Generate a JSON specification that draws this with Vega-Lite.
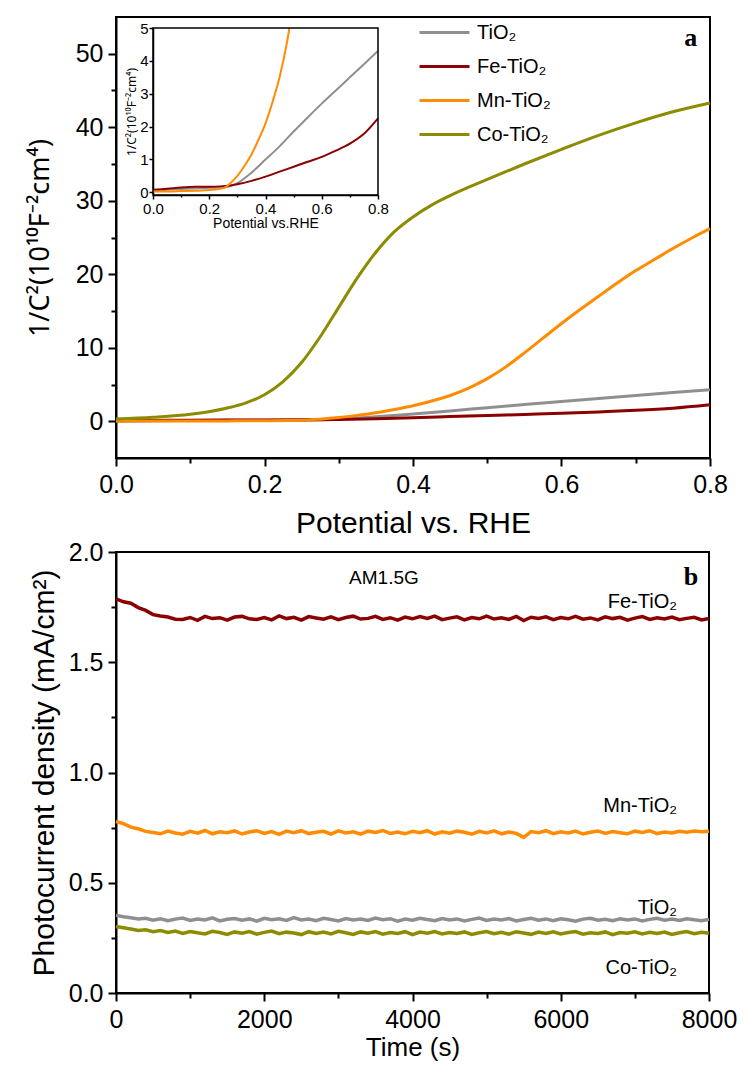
{
"$schema": "https://vega.github.io/schema/vega-lite/v6.json",
"padding": {"left": 25, "top": 11, "right": 5, "bottom": 0},
"spacing": 0,
"config": {
  "font": "Liberation Sans",
  "view": {"stroke": "black", "strokeWidth": 2},
  "axis": {"grid": false, "domainColor": "black", "domainWidth": 2, "tickColor": "black", "tickWidth": 2, "labelColor": "black", "titleColor": "black", "labelFont": "Liberation Sans", "titleFont": "Liberation Sans", "titleFontWeight": "normal", "labelFontSize": 25, "titleFontSize": 28, "labelPadding": 5, "labelOverlap": false, "labelFlush": false}
},
"datasets": {
  "cv": [
    {"p":0,"c":0.05,"s":"TiO₂"},{"p":0.05,"c":0.08,"s":"TiO₂"},{"p":0.1,"c":0.1,"s":"TiO₂"},{"p":0.15,"c":0.12,"s":"TiO₂"},{"p":0.2,"c":0.14,"s":"TiO₂"},{"p":0.25,"c":0.15,"s":"TiO₂"},{"p":0.3,"c":0.28,"s":"TiO₂"},{"p":0.35,"c":0.6,"s":"TiO₂"},{"p":0.4,"c":1.0,"s":"TiO₂"},{"p":0.45,"c":1.4,"s":"TiO₂"},{"p":0.5,"c":1.85,"s":"TiO₂"},{"p":0.55,"c":2.28,"s":"TiO₂"},{"p":0.6,"c":2.7,"s":"TiO₂"},{"p":0.65,"c":3.1,"s":"TiO₂"},{"p":0.7,"c":3.5,"s":"TiO₂"},{"p":0.75,"c":3.9,"s":"TiO₂"},{"p":0.8,"c":4.3,"s":"TiO₂"},
    {"p":0,"c":0.08,"s":"Fe-TiO₂"},{"p":0.05,"c":0.11,"s":"Fe-TiO₂"},{"p":0.1,"c":0.15,"s":"Fe-TiO₂"},{"p":0.15,"c":0.17,"s":"Fe-TiO₂"},{"p":0.2,"c":0.17,"s":"Fe-TiO₂"},{"p":0.25,"c":0.19,"s":"Fe-TiO₂"},{"p":0.3,"c":0.25,"s":"Fe-TiO₂"},{"p":0.35,"c":0.35,"s":"Fe-TiO₂"},{"p":0.4,"c":0.48,"s":"Fe-TiO₂"},{"p":0.45,"c":0.63,"s":"Fe-TiO₂"},{"p":0.5,"c":0.78,"s":"Fe-TiO₂"},{"p":0.55,"c":0.93,"s":"Fe-TiO₂"},{"p":0.6,"c":1.08,"s":"Fe-TiO₂"},{"p":0.65,"c":1.27,"s":"Fe-TiO₂"},{"p":0.7,"c":1.48,"s":"Fe-TiO₂"},{"p":0.75,"c":1.78,"s":"Fe-TiO₂"},{"p":0.8,"c":2.25,"s":"Fe-TiO₂"},
    {"p":0,"c":0.03,"s":"Mn-TiO₂"},{"p":0.05,"c":0.03,"s":"Mn-TiO₂"},{"p":0.1,"c":0.04,"s":"Mn-TiO₂"},{"p":0.15,"c":0.05,"s":"Mn-TiO₂"},{"p":0.2,"c":0.07,"s":"Mn-TiO₂"},{"p":0.25,"c":0.13,"s":"Mn-TiO₂"},{"p":0.275,"c":0.28,"s":"Mn-TiO₂"},{"p":0.3,"c":0.5,"s":"Mn-TiO₂"},{"p":0.325,"c":0.8,"s":"Mn-TiO₂"},{"p":0.35,"c":1.15,"s":"Mn-TiO₂"},{"p":0.375,"c":1.6,"s":"Mn-TiO₂"},{"p":0.4,"c":2.1,"s":"Mn-TiO₂"},{"p":0.425,"c":2.75,"s":"Mn-TiO₂"},{"p":0.45,"c":3.5,"s":"Mn-TiO₂"},{"p":0.475,"c":4.5,"s":"Mn-TiO₂"},{"p":0.485,"c":5.0,"s":"Mn-TiO₂"},{"p":0.5,"c":5.8,"s":"Mn-TiO₂"},{"p":0.525,"c":7.4,"s":"Mn-TiO₂"},{"p":0.55,"c":9.3,"s":"Mn-TiO₂"},{"p":0.575,"c":11.3,"s":"Mn-TiO₂"},{"p":0.6,"c":13.3,"s":"Mn-TiO₂"},{"p":0.625,"c":15.2,"s":"Mn-TiO₂"},{"p":0.65,"c":17.0,"s":"Mn-TiO₂"},{"p":0.675,"c":18.8,"s":"Mn-TiO₂"},{"p":0.7,"c":20.5,"s":"Mn-TiO₂"},{"p":0.725,"c":22.0,"s":"Mn-TiO₂"},{"p":0.75,"c":23.5,"s":"Mn-TiO₂"},{"p":0.775,"c":24.9,"s":"Mn-TiO₂"},{"p":0.8,"c":26.2,"s":"Mn-TiO₂"},
    {"p":0,"c":0.3,"s":"Co-TiO₂"},{"p":0.05,"c":0.55,"s":"Co-TiO₂"},{"p":0.1,"c":0.95,"s":"Co-TiO₂"},{"p":0.125,"c":1.3,"s":"Co-TiO₂"},{"p":0.15,"c":1.8,"s":"Co-TiO₂"},{"p":0.175,"c":2.5,"s":"Co-TiO₂"},{"p":0.2,"c":3.6,"s":"Co-TiO₂"},{"p":0.225,"c":5.4,"s":"Co-TiO₂"},{"p":0.25,"c":8.0,"s":"Co-TiO₂"},{"p":0.275,"c":11.5,"s":"Co-TiO₂"},{"p":0.3,"c":15.5,"s":"Co-TiO₂"},{"p":0.325,"c":19.5,"s":"Co-TiO₂"},{"p":0.35,"c":23.0,"s":"Co-TiO₂"},{"p":0.375,"c":25.8,"s":"Co-TiO₂"},{"p":0.4,"c":27.8,"s":"Co-TiO₂"},{"p":0.425,"c":29.4,"s":"Co-TiO₂"},{"p":0.45,"c":30.7,"s":"Co-TiO₂"},{"p":0.5,"c":32.9,"s":"Co-TiO₂"},{"p":0.55,"c":35.0,"s":"Co-TiO₂"},{"p":0.6,"c":37.0,"s":"Co-TiO₂"},{"p":0.65,"c":38.9,"s":"Co-TiO₂"},{"p":0.7,"c":40.6,"s":"Co-TiO₂"},{"p":0.75,"c":42.1,"s":"Co-TiO₂"},{"p":0.8,"c":43.3,"s":"Co-TiO₂"}
  ],
  "fe": [
    {"t":0,"v":1.788},{"t":100,"v":1.774},{"t":200,"v":1.768},{"t":300,"v":1.748},{"t":400,"v":1.735},{"t":500,"v":1.716},{"t":600,"v":1.710},{"t":700,"v":1.705},{"t":800,"v":1.695},{"t":900,"v":1.694},{"t":1000,"v":1.703},{"t":1100,"v":1.690},{"t":1200,"v":1.708},{"t":1300,"v":1.698},{"t":1400,"v":1.702},{"t":1500,"v":1.691},{"t":1600,"v":1.705},{"t":1700,"v":1.708},{"t":1800,"v":1.697},{"t":1900,"v":1.694},{"t":2000,"v":1.703},{"t":2100,"v":1.692},{"t":2200,"v":1.710},{"t":2300,"v":1.698},{"t":2400,"v":1.704},{"t":2500,"v":1.691},{"t":2600,"v":1.707},{"t":2700,"v":1.701},{"t":2800,"v":1.695},{"t":2900,"v":1.706},{"t":3000,"v":1.693},{"t":3100,"v":1.703},{"t":3200,"v":1.709},{"t":3300,"v":1.696},{"t":3400,"v":1.699},{"t":3500,"v":1.708},{"t":3600,"v":1.694},{"t":3700,"v":1.702},{"t":3800,"v":1.691},{"t":3900,"v":1.705},{"t":4000,"v":1.697},{"t":4100,"v":1.707},{"t":4200,"v":1.699},{"t":4300,"v":1.709},{"t":4400,"v":1.693},{"t":4500,"v":1.700},{"t":4600,"v":1.706},{"t":4700,"v":1.692},{"t":4800,"v":1.703},{"t":4900,"v":1.697},{"t":5000,"v":1.709},{"t":5100,"v":1.696},{"t":5200,"v":1.702},{"t":5300,"v":1.694},{"t":5400,"v":1.708},{"t":5500,"v":1.689},{"t":5600,"v":1.704},{"t":5700,"v":1.699},{"t":5800,"v":1.706},{"t":5900,"v":1.693},{"t":6000,"v":1.703},{"t":6100,"v":1.697},{"t":6200,"v":1.708},{"t":6300,"v":1.695},{"t":6400,"v":1.701},{"t":6500,"v":1.692},{"t":6600,"v":1.706},{"t":6700,"v":1.698},{"t":6800,"v":1.704},{"t":6900,"v":1.691},{"t":7000,"v":1.700},{"t":7100,"v":1.707},{"t":7200,"v":1.694},{"t":7300,"v":1.702},{"t":7400,"v":1.696},{"t":7500,"v":1.705},{"t":7600,"v":1.693},{"t":7700,"v":1.699},{"t":7800,"v":1.704},{"t":7900,"v":1.692},{"t":8000,"v":1.698}
  ],
  "mn": [
    {"t":0,"v":0.778},{"t":100,"v":0.768},{"t":200,"v":0.752},{"t":300,"v":0.745},{"t":400,"v":0.733},{"t":500,"v":0.728},{"t":600,"v":0.722},{"t":700,"v":0.734},{"t":800,"v":0.726},{"t":900,"v":0.720},{"t":1000,"v":0.733},{"t":1100,"v":0.725},{"t":1200,"v":0.737},{"t":1300,"v":0.722},{"t":1400,"v":0.731},{"t":1500,"v":0.727},{"t":1600,"v":0.735},{"t":1700,"v":0.721},{"t":1800,"v":0.730},{"t":1900,"v":0.736},{"t":2000,"v":0.724},{"t":2100,"v":0.732},{"t":2200,"v":0.719},{"t":2300,"v":0.734},{"t":2400,"v":0.727},{"t":2500,"v":0.736},{"t":2600,"v":0.723},{"t":2700,"v":0.729},{"t":2800,"v":0.733},{"t":2900,"v":0.721},{"t":3000,"v":0.735},{"t":3100,"v":0.726},{"t":3200,"v":0.731},{"t":3300,"v":0.720},{"t":3400,"v":0.734},{"t":3500,"v":0.728},{"t":3600,"v":0.737},{"t":3700,"v":0.724},{"t":3800,"v":0.730},{"t":3900,"v":0.722},{"t":4000,"v":0.733},{"t":4100,"v":0.727},{"t":4200,"v":0.736},{"t":4300,"v":0.721},{"t":4400,"v":0.731},{"t":4500,"v":0.725},{"t":4600,"v":0.734},{"t":4700,"v":0.729},{"t":4800,"v":0.720},{"t":4900,"v":0.733},{"t":5000,"v":0.726},{"t":5100,"v":0.735},{"t":5200,"v":0.722},{"t":5300,"v":0.730},{"t":5400,"v":0.724},{"t":5500,"v":0.706},{"t":5600,"v":0.732},{"t":5700,"v":0.727},{"t":5800,"v":0.736},{"t":5900,"v":0.723},{"t":6000,"v":0.731},{"t":6100,"v":0.726},{"t":6200,"v":0.734},{"t":6300,"v":0.721},{"t":6400,"v":0.729},{"t":6500,"v":0.735},{"t":6600,"v":0.724},{"t":6700,"v":0.732},{"t":6800,"v":0.727},{"t":6900,"v":0.722},{"t":7000,"v":0.734},{"t":7100,"v":0.728},{"t":7200,"v":0.736},{"t":7300,"v":0.723},{"t":7400,"v":0.730},{"t":7500,"v":0.726},{"t":7600,"v":0.733},{"t":7700,"v":0.729},{"t":7800,"v":0.735},{"t":7900,"v":0.731},{"t":8000,"v":0.734}
  ],
  "ti": [
    {"t":0,"v":0.352},{"t":100,"v":0.346},{"t":200,"v":0.341},{"t":300,"v":0.336},{"t":400,"v":0.339},{"t":500,"v":0.330},{"t":600,"v":0.337},{"t":700,"v":0.328},{"t":800,"v":0.335},{"t":900,"v":0.340},{"t":1000,"v":0.329},{"t":1100,"v":0.336},{"t":1200,"v":0.331},{"t":1300,"v":0.341},{"t":1400,"v":0.327},{"t":1500,"v":0.334},{"t":1600,"v":0.338},{"t":1700,"v":0.330},{"t":1800,"v":0.336},{"t":1900,"v":0.326},{"t":2000,"v":0.339},{"t":2100,"v":0.332},{"t":2200,"v":0.337},{"t":2300,"v":0.329},{"t":2400,"v":0.342},{"t":2500,"v":0.331},{"t":2600,"v":0.335},{"t":2700,"v":0.328},{"t":2800,"v":0.339},{"t":2900,"v":0.333},{"t":3000,"v":0.327},{"t":3100,"v":0.338},{"t":3200,"v":0.331},{"t":3300,"v":0.336},{"t":3400,"v":0.329},{"t":3500,"v":0.340},{"t":3600,"v":0.332},{"t":3700,"v":0.337},{"t":3800,"v":0.326},{"t":3900,"v":0.335},{"t":4000,"v":0.330},{"t":4100,"v":0.339},{"t":4200,"v":0.333},{"t":4300,"v":0.328},{"t":4400,"v":0.338},{"t":4500,"v":0.331},{"t":4600,"v":0.336},{"t":4700,"v":0.327},{"t":4800,"v":0.334},{"t":4900,"v":0.340},{"t":5000,"v":0.329},{"t":5100,"v":0.335},{"t":5200,"v":0.331},{"t":5300,"v":0.338},{"t":5400,"v":0.327},{"t":5500,"v":0.333},{"t":5600,"v":0.339},{"t":5700,"v":0.330},{"t":5800,"v":0.336},{"t":5900,"v":0.328},{"t":6000,"v":0.337},{"t":6100,"v":0.332},{"t":6200,"v":0.326},{"t":6300,"v":0.335},{"t":6400,"v":0.339},{"t":6500,"v":0.330},{"t":6600,"v":0.334},{"t":6700,"v":0.328},{"t":6800,"v":0.337},{"t":6900,"v":0.331},{"t":7000,"v":0.336},{"t":7100,"v":0.327},{"t":7200,"v":0.334},{"t":7300,"v":0.339},{"t":7400,"v":0.330},{"t":7500,"v":0.335},{"t":7600,"v":0.329},{"t":7700,"v":0.337},{"t":7800,"v":0.332},{"t":7900,"v":0.328},{"t":8000,"v":0.334}
  ],
  "co": [
    {"t":0,"v":0.302},{"t":100,"v":0.296},{"t":200,"v":0.290},{"t":300,"v":0.284},{"t":400,"v":0.287},{"t":500,"v":0.278},{"t":600,"v":0.283},{"t":700,"v":0.275},{"t":800,"v":0.281},{"t":900,"v":0.270},{"t":1000,"v":0.279},{"t":1100,"v":0.273},{"t":1200,"v":0.268},{"t":1300,"v":0.280},{"t":1400,"v":0.274},{"t":1500,"v":0.266},{"t":1600,"v":0.277},{"t":1700,"v":0.271},{"t":1800,"v":0.279},{"t":1900,"v":0.267},{"t":2000,"v":0.275},{"t":2100,"v":0.281},{"t":2200,"v":0.269},{"t":2300,"v":0.276},{"t":2400,"v":0.272},{"t":2500,"v":0.265},{"t":2600,"v":0.278},{"t":2700,"v":0.270},{"t":2800,"v":0.276},{"t":2900,"v":0.268},{"t":3000,"v":0.280},{"t":3100,"v":0.273},{"t":3200,"v":0.266},{"t":3300,"v":0.277},{"t":3400,"v":0.271},{"t":3500,"v":0.279},{"t":3600,"v":0.267},{"t":3700,"v":0.274},{"t":3800,"v":0.270},{"t":3900,"v":0.278},{"t":4000,"v":0.265},{"t":4100,"v":0.276},{"t":4200,"v":0.271},{"t":4300,"v":0.279},{"t":4400,"v":0.268},{"t":4500,"v":0.274},{"t":4600,"v":0.270},{"t":4700,"v":0.277},{"t":4800,"v":0.266},{"t":4900,"v":0.273},{"t":5000,"v":0.279},{"t":5100,"v":0.269},{"t":5200,"v":0.275},{"t":5300,"v":0.267},{"t":5400,"v":0.278},{"t":5500,"v":0.272},{"t":5600,"v":0.266},{"t":5700,"v":0.276},{"t":5800,"v":0.270},{"t":5900,"v":0.278},{"t":6000,"v":0.268},{"t":6100,"v":0.274},{"t":6200,"v":0.279},{"t":6300,"v":0.267},{"t":6400,"v":0.273},{"t":6500,"v":0.270},{"t":6600,"v":0.277},{"t":6700,"v":0.265},{"t":6800,"v":0.274},{"t":6900,"v":0.271},{"t":7000,"v":0.278},{"t":7100,"v":0.268},{"t":7200,"v":0.275},{"t":7300,"v":0.270},{"t":7400,"v":0.276},{"t":7500,"v":0.266},{"t":7600,"v":0.273},{"t":7700,"v":0.279},{"t":7800,"v":0.269},{"t":7900,"v":0.275},{"t":8000,"v":0.271}
  ],
  "blab": [
    {"t":7568,"v":1.773,"label":"Fe-TiO₂"},
    {"t":7568,"v":0.848,"label":"Mn-TiO₂"},
    {"t":7568,"v":0.385,"label":"TiO₂"},
    {"t":7568,"v":0.113,"label":"Co-TiO₂"}
  ]
},
"vconcat": [
  {
    "width": 594, "height": 441,
    "layer": [
      {
        "layer": [
          {
            "data": {"name": "cv"},
            "mark": {"type": "line", "strokeWidth": 3, "interpolate": "monotone"},
            "encoding": {
              "x": {"field": "p", "type": "quantitative", "scale": {"domain": [0, 0.8], "nice": false, "zero": false},
                    "axis": {"orient": "bottom", "title": "Potential vs. RHE", "values": [0,0.1,0.2,0.3,0.4,0.5,0.6,0.7,0.8], "format": ".1f",
                             "labelExpr": "round(datum.value*10) % 2 === 0 ? datum.label : ''",
                             "tickSize": {"condition": {"test": "round(datum.value*10) % 2 === 0", "value": 8}, "value": 5},
                             "labelPadding": 6, "titlePadding": 11, "titleFontSize": 30}},
              "y": {"field": "c", "type": "quantitative", "scale": {"domain": [-5, 55], "nice": false, "zero": false},
                    "axis": {"orient": "left", "title": "1/C²(10¹⁰F⁻²cm⁴)", "titleFont": "Noto Sans", "titleFontSize": 27, "values": [0,5,10,15,20,25,30,35,40,45,50],
                             "labelExpr": "datum.value % 10 === 0 ? datum.label : ''",
                             "tickSize": {"condition": {"test": "datum.value % 10 === 0", "value": 8}, "value": 5},
                             "titlePadding": 21}},
              "color": {"field": "s", "type": "nominal",
                        "scale": {"domain": ["TiO₂", "Fe-TiO₂", "Mn-TiO₂", "Co-TiO₂"], "range": ["#8f8f8f", "#8b0000", "#ff8c00", "#8c8c00"]},
                        "legend": {"orient": "none", "legendX": 307, "legendY": -6, "title": null, "symbolType": "M-1.25,0H1.25", "symbolSize": 1600, "symbolStrokeWidth": 3, "labelFontSize": 20, "labelFont": "Liberation Sans", "labelColor": "black", "rowPadding": 2, "labelOffset": 11, "padding": 0}}
            }
          },
          {
            "data": {"values": [{"p": 0.774, "c": 52.1, "txt": "a"}]},
            "mark": {"type": "text", "font": "Liberation Serif", "fontWeight": "bold", "fontSize": 26, "baseline": "middle", "align": "center"},
            "encoding": {"x": {"field": "p", "type": "quantitative"}, "y": {"field": "c", "type": "quantitative"}, "text": {"field": "txt"}}
          }
        ]
      },
      {
        "layer": [
          {
            "data": {"name": "cv"},
            "transform": [{"filter": "datum.s !== 'Co-TiO₂' && datum.c <= 5.01"}],
            "mark": {"type": "line", "strokeWidth": 2, "interpolate": "monotone"},
            "encoding": {
              "x": {"field": "p", "type": "quantitative", "scale": {"domain": [0, 0.8], "range": [37, 262], "nice": false, "zero": false},
                    "axis": {"orient": "bottom", "offset": -263, "title": "Potential vs.RHE", "titleFontSize": 14, "labelFontSize": 15, "values": [0,0.1,0.2,0.3,0.4,0.5,0.6,0.7,0.8], "format": ".1f",
                             "labelExpr": "round(datum.value*10) % 2 === 0 ? datum.label : ''",
                             "tickSize": {"condition": {"test": "round(datum.value*10) % 2 === 0", "value": 4}, "value": 2},
                             "domainWidth": 1.5, "tickWidth": 1.5, "labelPadding": 2, "titlePadding": 0}},
              "y": {"field": "c", "type": "quantitative", "scale": {"domain": [-0.08, 5], "range": [178, 11], "nice": false, "zero": false},
                    "axis": {"orient": "left", "offset": -37, "title": "1/C²(10¹⁰F⁻²cm⁴)", "titleFont": "Noto Sans", "titleFontSize": 12, "labelFontSize": 15, "values": [0,0.5,1,1.5,2,2.5,3,3.5,4,4.5,5], "format": "d",
                             "labelExpr": "round(datum.value*2) % 2 === 0 ? datum.label : ''",
                             "tickSize": {"condition": {"test": "round(datum.value*2) % 2 === 0", "value": 4}, "value": 2},
                             "domainWidth": 1.5, "tickWidth": 1.5, "labelPadding": 1, "titlePadding": 1}},
              "color": {"field": "s", "type": "nominal", "legend": null}
            }
          },
          {
            "data": {"values": [{"x0": 0, "x1": 0.8, "y0": -0.08, "y1": 5}]},
            "mark": {"type": "rect", "fillOpacity": 0, "stroke": "black", "strokeWidth": 1.5},
            "encoding": {"x": {"field": "x0", "type": "quantitative"}, "x2": {"field": "x1"}, "y": {"field": "y0", "type": "quantitative"}, "y2": {"field": "y1"}}
          }
        ]
      }
    ],
    "resolve": {"scale": {"x": "independent", "y": "independent"}, "axis": {"x": "independent", "y": "independent"}}
  },
  {
    "width": 593, "height": 441,
    "layer": [
      {
        "data": {"name": "fe"},
        "mark": {"type": "line", "color": "#8b0000", "strokeWidth": 3.5},
        "encoding": {
          "x": {"field": "t", "type": "quantitative", "scale": {"domain": [0, 8000], "nice": false, "zero": false},
                "axis": {"title": "Time (s)", "values": [0,1000,2000,3000,4000,5000,6000,7000,8000], "format": "d",
                         "labelExpr": "datum.value % 2000 === 0 ? datum.label : ''",
                         "tickSize": {"condition": {"test": "datum.value % 2000 === 0", "value": 8}, "value": 5},
                         "labelPadding": 6, "titlePadding": 2, "titleFontSize": 26}},
          "y": {"field": "v", "type": "quantitative", "scale": {"domain": [0, 2], "nice": false, "zero": false},
                "axis": {"title": "Photocurrent density (mA/cm²)", "values": [0,0.25,0.5,0.75,1,1.25,1.5,1.75,2], "format": ".1f",
                         "labelExpr": "round(datum.value*4) % 2 === 0 ? datum.label : ''",
                         "tickSize": {"condition": {"test": "round(datum.value*4) % 2 === 0", "value": 8}, "value": 5},
                         "titlePadding": 9, "titleFontSize": 30}}
        }
      },
      {
        "data": {"name": "mn"},
        "mark": {"type": "line", "color": "#ff8c00", "strokeWidth": 3.5},
        "encoding": {"x": {"field": "t", "type": "quantitative"}, "y": {"field": "v", "type": "quantitative"}}
      },
      {
        "data": {"name": "ti"},
        "mark": {"type": "line", "color": "#8f8f8f", "strokeWidth": 3.5},
        "encoding": {"x": {"field": "t", "type": "quantitative"}, "y": {"field": "v", "type": "quantitative"}}
      },
      {
        "data": {"name": "co"},
        "mark": {"type": "line", "color": "#8c8c00", "strokeWidth": 3.5},
        "encoding": {"x": {"field": "t", "type": "quantitative"}, "y": {"field": "v", "type": "quantitative"}}
      },
      {
        "data": {"name": "blab"},
        "mark": {"type": "text", "align": "right", "baseline": "middle", "fontSize": 20, "font": "Liberation Sans", "color": "black"},
        "encoding": {"x": {"field": "t", "type": "quantitative"}, "y": {"field": "v", "type": "quantitative"}, "text": {"field": "label"}}
      },
      {
        "data": {"values": [{"t": 3615, "v": 1.88, "label": "AM1.5G"}]},
        "mark": {"type": "text", "align": "center", "baseline": "middle", "fontSize": 19, "font": "Liberation Sans", "color": "black"},
        "encoding": {"x": {"field": "t", "type": "quantitative"}, "y": {"field": "v", "type": "quantitative"}, "text": {"field": "label"}}
      },
      {
        "data": {"values": [{"t": 7757, "v": 1.887, "label": "b"}]},
        "mark": {"type": "text", "align": "center", "baseline": "middle", "fontSize": 26, "font": "Liberation Serif", "fontWeight": "bold", "color": "black"},
        "encoding": {"x": {"field": "t", "type": "quantitative"}, "y": {"field": "v", "type": "quantitative"}, "text": {"field": "label"}}
      }
    ]
  }
]
}
